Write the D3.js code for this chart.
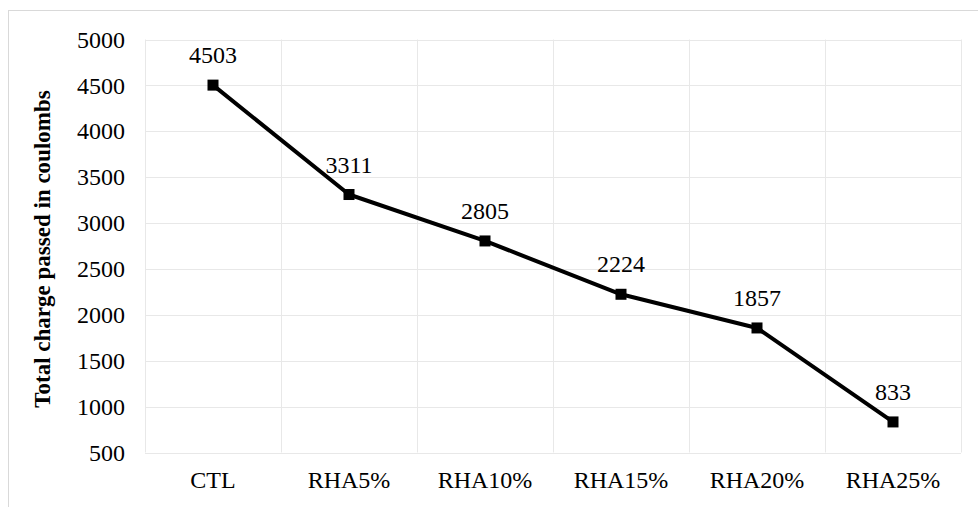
<!DOCTYPE html>
<html>
<head>
<meta charset="utf-8">
<script src="https://cdn.jsdelivr.net/npm/d3@7"></script>
<style>
  html, body { margin: 0; padding: 0; background: #fff; }
  svg { display: block; }
</style>
</head>
<body>
<svg id="chart" width="978" height="507"></svg>
<script>
// Total charge passed (coulombs) for each mix
const categories = ["CTL", "RHA5%", "RHA10%", "RHA15%", "RHA20%", "RHA25%"];
const charge = [4503, 3311, 2805, 2224, 1857, 833];
const yTicks = [500, 1000, 1500, 2000, 2500, 3000, 3500, 4000, 4500, 5000];
const yTitle = "Total charge passed in coulombs";

const FONT = "'Liberation Serif', 'Times New Roman', Times, serif";
const svg = d3.select("#chart");
const W = 978, H = 507;
const plot = { left: 145, right: 961, top: 39.5, bottom: 452.5 };

// outer chart frame
svg.append("rect")
  .attr("x", 8.5).attr("y", 10.5)
  .attr("width", W + 20).attr("height", H + 20)
  .attr("fill", "#fff").attr("stroke", "#d9d9d9").attr("stroke-width", 1);

const x = d3.scaleBand().domain(categories).range([plot.left, plot.right]).padding(0);
const y = d3.scaleLinear().domain([500, 5000]).range([plot.bottom, plot.top]);

// horizontal gridlines
svg.append("g").selectAll("line").data(yTicks).join("line")
  .attr("x1", plot.left).attr("x2", plot.right)
  .attr("y1", d => Math.round(y(d)) + 0.5).attr("y2", d => Math.round(y(d)) + 0.5)
  .attr("stroke", "#e8e8e8").attr("stroke-width", 1);

// vertical gridlines at category boundaries
const bounds = categories.map(c => x(c)).concat([x(categories[categories.length - 1]) + x.bandwidth()]);
svg.append("g").selectAll("line").data(bounds).join("line")
  .attr("x1", d => Math.round(d) + 0.5).attr("x2", d => Math.round(d) + 0.5)
  .attr("y1", plot.top).attr("y2", plot.bottom)
  .attr("stroke", "#e8e8e8").attr("stroke-width", 1);

// y axis tick labels
const yAxis = d3.axisLeft(y).tickValues(yTicks).tickSize(0).tickPadding(20).tickFormat(d3.format("d"));
const yg = svg.append("g").attr("transform", `translate(${plot.left},0)`).call(yAxis);
yg.attr("font-family", null).attr("font-size", null);
yg.select(".domain").remove();
yg.selectAll("text").style("font-family", FONT).style("font-size", "24px").attr("fill", "#000");

// x axis category labels
const xAxis = d3.axisBottom(x).tickSize(0).tickPadding(18);
const xg = svg.append("g").attr("transform", `translate(0,${plot.bottom})`).call(xAxis);
xg.attr("font-family", null).attr("font-size", null);
xg.select(".domain").remove();
xg.selectAll("text").style("font-family", FONT).style("font-size", "24px").attr("fill", "#000");

// y axis title
svg.append("text")
  .attr("transform", `translate(50,${(plot.top + plot.bottom) / 2 + 3}) rotate(-90)`)
  .attr("text-anchor", "middle")
  .style("font-family", FONT)
  .style("font-size", "23px").style("font-weight", "bold")
  .text(yTitle);

const cx = d => x(d) + x.bandwidth() / 2;
const pts = categories.map((c, i) => ({ c, v: charge[i] }));

// series line
svg.append("path")
  .datum(pts)
  .attr("fill", "none").attr("stroke", "#000").attr("stroke-width", 4)
  .attr("stroke-linejoin", "round")
  .attr("d", d3.line().x(d => cx(d.c)).y(d => y(d.v)));

// square markers
svg.append("g").selectAll("rect").data(pts).join("rect")
  .attr("x", d => cx(d.c) - 5.5).attr("y", d => y(d.v) - 5.5)
  .attr("width", 11).attr("height", 11).attr("fill", "#000");

// value labels above each point
svg.append("g").selectAll("text").data(pts).join("text")
  .attr("x", d => cx(d.c)).attr("y", d => y(d.v) - 22)
  .attr("text-anchor", "middle")
  .style("font-family", FONT)
  .style("font-size", "24px")
  .text(d => d.v);
</script>
</body>
</html>
